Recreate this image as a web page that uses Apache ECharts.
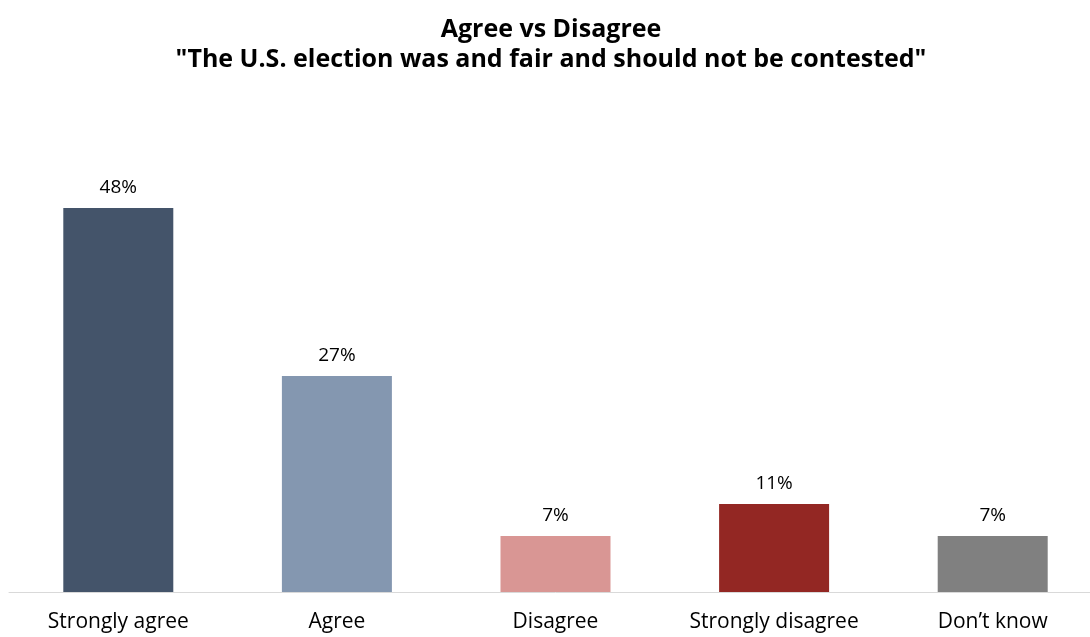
<!DOCTYPE html>
<html>
<head>
<meta charset="utf-8">
<script src="https://cdn.jsdelivr.net/npm/echarts@6/dist/echarts.min.js"></script>
<style>
  html, body { margin: 0; padding: 0; background: #fff; overflow: hidden; }
  #chart { width: 1102px; height: 637px; }
</style>
</head>
<body>
<div id="chart"></div>
<script>
const categories = ['Strongly agree', 'Agree', 'Disagree', 'Strongly disagree', 'Don\u2019t know'];
const values = [48, 27, 7, 11, 7];
const barColors = ['#44546A', '#8497B0', '#D99694', '#932723', '#808080'];

// chart div is a little wider than the window so the last category keeps its full width
const chart = echarts.init(document.getElementById('chart'));
chart.setOption({
  animation: false,
  title: {
    text: 'Agree vs Disagree\n"The U.S. election was and fair and should not be contested"',
    left: 'center',
    top: 10,
    textStyle: {
      fontFamily: 'Open Sans',
      fontWeight: 'bold',
      fontSize: 25,
      lineHeight: 30,
      color: '#000'
    }
  },
  grid: { left: 9, right: 0, top: 112, bottom: 45 },
  xAxis: {
    type: 'category',
    data: categories,
    axisLine: { lineStyle: { color: '#D9D9D9', width: 1 } },
    axisTick: { show: false },
    axisLabel: { color: '#000', fontFamily: 'Open Sans', fontSize: 21, margin: 20, interval: 0 }
  },
  yAxis: {
    type: 'value',
    min: 0,
    max: 60,
    show: false
  },
  series: [{
    type: 'bar',
    barWidth: 110,
    data: values.map((v, i) => ({ value: v, itemStyle: { color: barColors[i] } })),
    label: {
      show: true,
      position: 'top',
      distance: 11,
      formatter: '{c}%',
      color: '#000',
      fontFamily: 'Open Sans',
      fontSize: 19
    }
  }]
});
</script>
</body>
</html>
